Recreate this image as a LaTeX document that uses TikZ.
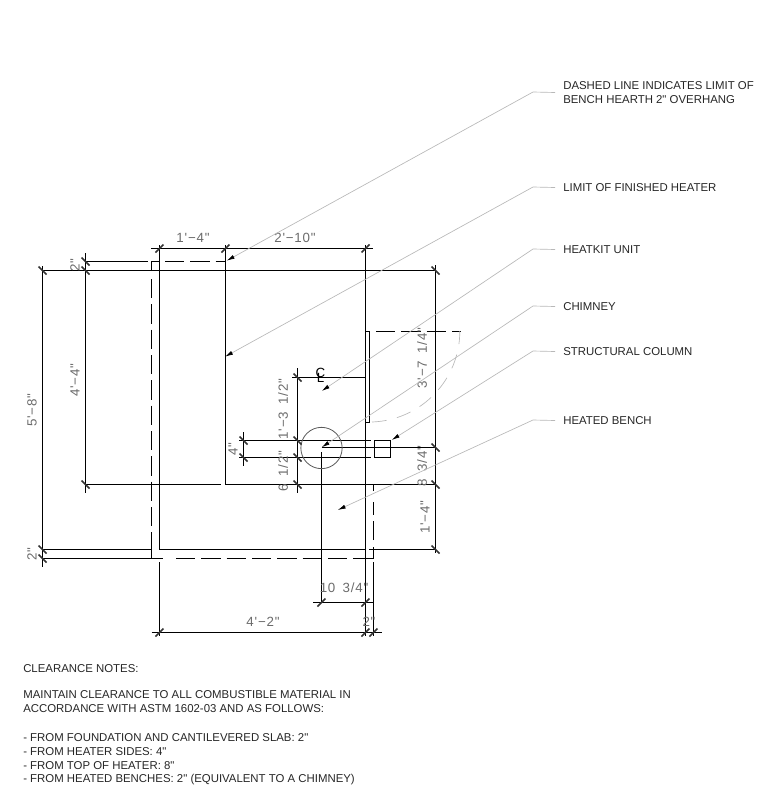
\documentclass[tikz,border=0pt]{standalone}
\usepackage{fontspec}
\newfontfamily\cadfont{Liberation Sans}
\newfontfamily\dimfont[LetterSpace=6,WordSpace=1.6]{Liberation Sans}
\usetikzlibrary{arrows.meta,positioning}
\definecolor{dimgray}{gray}{0.42}
\definecolor{leadgray}{gray}{0.72}
% dimension ticks
\newcommand{\ticku}[2]{\draw[tick] (#1-4,#2+4) -- (#1+4,#2-4);}
\newcommand{\tickd}[2]{\draw[tick] (#1-4,#2-4) -- (#1+4,#2+4);}
\newcommand{\tightlines}{\setlength{\lineskiplimit}{-20pt}}
\begin{document}
\begin{tikzpicture}[x=0.75pt,y=-0.75pt]
\tikzstyle{wall}=[line width=0.75pt,draw=black]
\tikzstyle{hearth}=[line width=0.75pt,draw=black,dash pattern=on 14.5pt off 4.5pt]
\tikzstyle{tick}=[line width=1.1pt,draw=black!80]
\tikzstyle{leader}=[line width=0.5pt,draw=leadgray,-{Latex[black,length=6pt,width=3pt]}]
\tikzstyle{dimtext}=[font=\dimfont\fontsize{10}{10}\selectfont,text=dimgray,inner sep=0pt]
\tikzstyle{calltext}=[font=\cadfont\fontsize{8.55}{10.5}\selectfont,text=black!85,inner sep=0pt,anchor=west,align=left]
\useasboundingbox (0,0) rectangle (784,803);

% limit of heater and dimension lines
\draw[wall] (42.5,270.5) -- (436,270.5);
\draw[wall] (85.5,261.5) -- (148,261.5);
\draw[wall] (151,248.5) -- (373,248.5);
\draw[wall] (85.5,484.5) -- (221,484.5);
\draw[wall] (225.5,484.5) -- (436,484.5);
\draw[wall] (42.5,549.5) -- (151.5,549.5);
\draw[wall] (159.5,549.5) -- (365.5,549.5);
\draw[wall] (369,549.5) -- (436,549.5);
\draw[wall] (42.5,266) -- (42.5,567);
\draw[wall] (85.5,253) -- (85.5,493);
\draw[wall] (159.5,245) -- (159.5,549.5);
\draw[wall] (159.5,562) -- (159.5,636);
\draw[wall] (225.5,245) -- (225.5,484.5);
\draw[wall] (365.5,245) -- (365.5,636);
\draw[wall] (435.5,265) -- (435.5,553);
\draw[wall] (373.5,562) -- (373.5,636);
\draw[wall] (313,602.5) -- (373.5,602.5);
\draw[wall] (151.5,632.5) -- (382,632.5);

% dashed hearth limit
\draw[wall] (151.5,271) -- (151.5,261.5) -- (160,261.5);
\draw[hearth] (165,261.5) -- (225.5,261.5);
\draw[hearth] (151.5,279) -- (151.5,549);
\draw[wall] (151.5,549) -- (151.5,558.5);
\draw[wall] (42.5,558.5) -- (163,558.5);
\draw[hearth] (176,558.5) -- (362,558.5);
\draw[wall] (362,558.5) -- (373.5,558.5) -- (373.5,547);
\draw[hearth] (373.5,540) -- (373.5,502);
\draw[wall] (373.5,491) -- (373.5,484.5);
\draw[hearth] (376,331.5) -- (461,331.5);
\draw[wall] (365.5,331.5) -- (369.5,331.5);

% heatkit, chimney, column
\draw[wall] (369.5,331.5) -- (369.5,422.5) -- (365.5,422.5);
\draw[wall] (292,377.5) -- (365.5,377.5);
\draw[wall] (297.5,368) -- (297.5,493);
\draw[wall] (243.5,432) -- (243.5,466);
\draw[wall] (239,440.5) -- (370.5,440.5);
\draw[wall] (239,457.5) -- (370.5,457.5);
\draw[wall] (321.5,447.5) -- (436,447.5);
\draw[wall] (321.5,452) -- (321.5,602.5);
\draw[wall] (374.5,440.5) rectangle (390.5,457.5);
\node[circle,draw=black!65,line width=0.6pt,minimum size=31pt,inner sep=0pt] (flue) at (321.5,448) {};
\draw[line width=0.5pt,draw=leadgray,dash pattern=on 11pt off 8pt] (372,422) arc[start angle=88,end angle=0,radius=91];

% ticks
\ticku{159.5}{248.5}
\ticku{225.5}{248.5}
\ticku{365.5}{248.5}
\ticku{159.5}{632.5}
\ticku{365.5}{632.5}
\ticku{373.5}{632.5}
\ticku{321.5}{602.5}
\ticku{365.5}{602.5}
\tickd{42.5}{270.5}
\tickd{42.5}{549.5}
\tickd{42.5}{558.5}
\tickd{85.5}{261.5}
\tickd{85.5}{270.5}
\tickd{85.5}{484.5}
\tickd{243.5}{440.5}
\tickd{243.5}{457.5}
\tickd{297.5}{377.5}
\tickd{297.5}{440.5}
\tickd{297.5}{457.5}
\tickd{297.5}{484.5}
\tickd{435.5}{270.5}
\tickd{435.5}{447.5}
\tickd{435.5}{484.5}
\tickd{435.5}{549.5}

% dimension text
\node[dimtext] (d14) at (193,238) {1'−4"};
\node[dimtext] (d210) at (295,238) {2'−10"};
\node[dimtext,rotate=90] (d58) at (32,410) {5'−8"};
\node[dimtext,rotate=90] (d44) at (75,380) {4'−4"};
\node[dimtext,rotate=90] (d2a) at (75,265) {2"};
\node[dimtext,rotate=90] (d2b) at (32,554) {2"};
\node[dimtext,rotate=90] (d4) at (233,449) {4"};
\node[dimtext,rotate=90] (d13) at (283,409) {1'−3 1/2"};
\node[dimtext,rotate=90] (d6) at (283,471) {6 1/2"};
\node[dimtext,rotate=90] (d37) at (422,358) {3'−7 1/4"};
\node[dimtext,rotate=90] (d8) at (422,466) {8 3/4"};
\node[dimtext,rotate=90] (d14b) at (425,517) {1'−4"};
\node[dimtext] (d10) at (344,588) {10 3/4"};
\node[dimtext] (d2c) at (369,622) {2"};
\node[dimtext] (d42) at (263,622) {4'−2"};
\node[font=\cadfont\fontsize{10}{4}\selectfont\tightlines,inner sep=0pt,align=center] (centerline) at (320.5,375.5) {C\\L};

% callouts
\node[calltext] (dashed) at (563,92.5) {DASHED LINE INDICATES LIMIT OF\\BENCH HEARTH 2" OVERHANG};
\node[calltext] (limit) at (563,187.5) {LIMIT OF FINISHED HEATER};
\node[calltext] (heatkit) at (563,249.5) {HEATKIT UNIT};
\node[calltext] (chimney) at (563,306.5) {CHIMNEY};
\node[calltext] (column) at (563,351.5) {STRUCTURAL COLUMN};
\node[calltext] (bench) at (563,420.5) {HEATED BENCH};
\coordinate (dashedtip) at (226.7,260.7);
\coordinate (limittip) at (225,356.7);
\coordinate (heatkittip) at (321.7,391);
\coordinate (chimneytip) at (321.7,447.3);
\coordinate (columntip) at (391.7,440);
\coordinate (benchtip) at (337.7,510);
\draw[leader] ([xshift=-6pt]dashed.west) -- (533,92) -- (dashedtip);
\draw[leader] ([xshift=-6pt]limit.west) -- (533,187) -- (limittip);
\draw[leader] ([xshift=-6pt]heatkit.west) -- (533,249) -- (heatkittip);
\draw[leader] ([xshift=-6pt]chimney.west) -- (533,306) -- (chimneytip);
\draw[leader] ([xshift=-6pt]column.west) -- (533,351) -- (columntip);
\draw[leader] ([xshift=-6pt]bench.west) -- (533,420) -- (benchtip);

% notes
\node[calltext] (notes) at (23,668.5) {CLEARANCE NOTES:};
\node[calltext] (maintain) at (23,701.5) {MAINTAIN CLEARANCE TO ALL COMBUSTIBLE MATERIAL IN\\ACCORDANCE WITH ASTM 1602-03 AND AS FOLLOWS:};
\node[calltext] (n1) at (23,737.5) {- FROM FOUNDATION AND CANTILEVERED SLAB: 2"};
\node[calltext] (n2) at (23,751.5) {- FROM HEATER SIDES: 4"};
\node[calltext] (n3) at (23,765.5) {- FROM TOP OF HEATER: 8"};
\node[calltext] (n4) at (23,779.5) {- FROM HEATED BENCHES: 2" (EQUIVALENT TO A CHIMNEY)};
\end{tikzpicture}
\end{document}
